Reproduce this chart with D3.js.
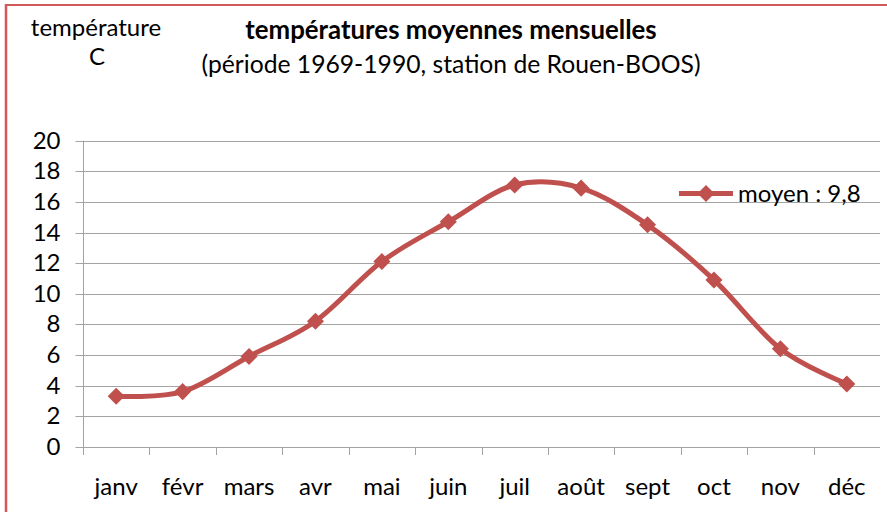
<!DOCTYPE html>
<html>
<head>
<meta charset="utf-8">
<script src="https://cdn.jsdelivr.net/npm/d3@7"></script>
<style>
  html, body { margin: 0; padding: 0; background: #fff; }
  svg { display: block; font-family: Lato, "Open Sans", sans-serif; }
</style>
</head>
<body>
<svg id="chart" width="887" height="512"></svg>
<script>
const months = ["janv", "févr", "mars", "avr", "mai", "juin", "juil", "août", "sept", "oct", "nov", "déc"];
const temperatures = [3.3, 3.6, 5.9, 8.2, 12.1, 14.7, 17.1, 16.9, 14.5, 10.9, 6.4, 4.1];
const yTicks = [0, 2, 4, 6, 8, 10, 12, 14, 16, 18, 20];
const seriesName = "moyen : 9,8";
const titleLine1 = "températures moyennes mensuelles";
const titleLine2 = "(période 1969-1990, station de Rouen-BOOS)";
const yTitle = ["température", "C"];

const svg = d3.select("#chart");
const red = "#C0504D";
const grid = "#a3a3a3";

// frame
svg.append("line").attr("x1", 6).attr("x2", 887).attr("y1", 5).attr("y2", 5)
  .attr("stroke", "#d05a57").attr("stroke-width", 2);
svg.append("line").attr("x1", 6).attr("x2", 6).attr("y1", 4).attr("y2", 512)
  .attr("stroke", "#d05a57").attr("stroke-width", 2.5);

const x = d3.scaleBand().domain(months).range([83, 880]).padding(0);
const y = d3.scaleLinear().domain([0, 20]).range([446.7, 140.7]);

// gridlines
svg.append("g").selectAll("line").data(yTicks).join("line")
  .attr("x1", 83).attr("x2", 880)
  .attr("y1", d => Math.round(y(d)) + 0.5).attr("y2", d => Math.round(y(d)) + 0.5)
  .attr("stroke", grid).attr("stroke-width", 1);

// y axis
const yAxis = svg.append("g").attr("transform", "translate(83.5,0)")
  .call(d3.axisLeft(y).tickValues(yTicks).tickSize(8).tickSizeOuter(0).tickPadding(15));
yAxis.select(".domain").remove();
yAxis.selectAll(".tick line").attr("stroke", grid);
yAxis.selectAll(".tick").attr("transform", d => `translate(0,${Math.round(y(d)) + 0.5})`);
yAxis.selectAll(".tick text").attr("font-size", 24).attr("fill", "#000")
  .attr("font-family", "Lato, sans-serif");
svg.append("line").attr("x1", 83.5).attr("x2", 83.5).attr("y1", y(20)).attr("y2", y(0) + 8)
  .attr("stroke", grid);

// x axis ticks at band boundaries
svg.append("g").selectAll("line").data(months).join("line")
  .attr("x1", d => Math.round(x(d)) + 0.5).attr("x2", d => Math.round(x(d)) + 0.5)
  .attr("y1", Math.round(y(0))).attr("y2", Math.round(y(0)) + 8)
  .attr("stroke", grid);

// x labels
svg.append("g").selectAll("text").data(months).join("text")
  .attr("x", d => x(d) + x.bandwidth() / 2)
  .attr("y", 495)
  .attr("text-anchor", "middle")
  .attr("font-size", 24)
  .attr("fill", "#000")
  .text(d => d);

// line
const pts = months.map((m, i) => [x(m) + x.bandwidth() / 2, y(temperatures[i])]);
svg.append("path")
  .attr("d", d3.line().curve(d3.curveCatmullRom.alpha(0))(pts))
  .attr("fill", "none").attr("stroke", red).attr("stroke-width", 5)
  .attr("stroke-linejoin", "round").attr("stroke-linecap", "round");

const diamond = d3.symbol().type(d3.symbolDiamond2).size(185);
svg.append("g").selectAll("path").data(pts).join("path")
  .attr("transform", d => `translate(${d[0]},${d[1]})`)
  .attr("d", diamond).attr("fill", red);

// legend
svg.append("line").attr("x1", 679).attr("x2", 733).attr("y1", 193.5).attr("y2", 193.5)
  .attr("stroke", red).attr("stroke-width", 5);
svg.append("path").attr("transform", "translate(706,193.5)").attr("d", diamond).attr("fill", red);
svg.append("text").attr("x", 738).attr("y", 201.5).attr("font-size", 24).attr("fill", "#000")
  .text(seriesName);

// titles
svg.append("text").attr("x", 451).attr("y", 39).attr("text-anchor", "middle")
  .attr("font-size", 25.8).attr("font-weight", "bold").attr("fill", "#000").text(titleLine1);
svg.append("text").attr("x", 451).attr("y", 73).attr("text-anchor", "middle")
  .attr("font-size", 24.7).attr("fill", "#000").text(titleLine2);

svg.append("text").attr("x", 96).attr("y", 35.5).attr("text-anchor", "middle")
  .attr("font-size", 24).attr("fill", "#000").text(yTitle[0]);
svg.append("text").attr("x", 97).attr("y", 64.5).attr("text-anchor", "middle")
  .attr("font-size", 24).attr("fill", "#000").text(yTitle[1]);
</script>
</body>
</html>
